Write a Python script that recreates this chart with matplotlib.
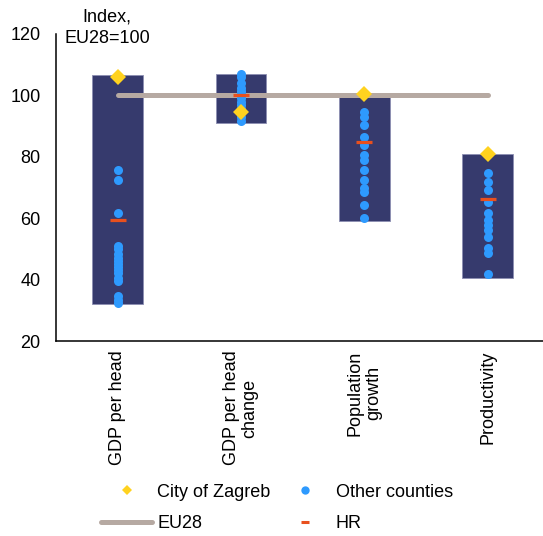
import matplotlib.pyplot as plt
from matplotlib.lines import Line2D

plt.rcParams['font.family'] = ['Liberation Sans', 'DejaVu Sans']

# data
categories = ['GDP per head', 'GDP per head\nchange', 'Population\ngrowth', 'Productivity']
bar_low = [32, 91, 59, 40.5]
bar_high = [106.5, 107, 100, 81]
zagreb = [106, 94.5, 100.5, 81]
hr = [59.5, 100, 84.8, 66.3]
eu28 = [100, 100, 100, 100]
others_gdp = [75.7, 72.4, 61.8, 51, 50, 48.5, 47, 46, 45, 44, 43, 42, 40.5, 39.5, 34.5, 33.5, 32.5]
others_gdp_change = [107, 106, 104, 102.5, 101.5, 100.5, 99, 98, 97, 95.5, 93, 91.5]
others_population = [94.6, 93, 90.4, 86.5, 83.8, 80.6, 79, 75.7, 72.4, 69.8, 68.5, 64.3, 60]
others_productivity = [74.7, 71.8, 69.2, 65.3, 61.7, 59.4, 57.8, 56.2, 53.9, 50.3, 48.7, 41.8]
others = [others_gdp, others_gdp_change, others_population, others_productivity]

navy = '#363A6D'
blue = '#2E9AFE'
yellow = '#FFD21F'
orange = '#E8501E'
grey = '#B6A9A2'

fig = plt.figure(figsize=(5.43, 5.36), dpi=100)
ax = fig.add_axes([56 / 543, 1 - 341 / 536, 1 - 56 / 543, 307 / 536])

x = list(range(len(categories)))
heights = [h - l for h, l in zip(bar_high, bar_low)]
ax.bar(x, heights, bottom=bar_low, width=0.41, color=navy,
       edgecolor='#8C8EB2', linewidth=0.6, zorder=1)

# EU28 reference line
ax.plot(x, eu28, color=grey, lw=3.6, solid_capstyle='round', zorder=2)

# other counties
for i, vals in enumerate(others):
    ax.plot([i] * len(vals), vals, 'o', color=blue, ms=6.5, mew=0, zorder=3)

# Croatia average
ax.plot(x, hr, '_', color=orange, ms=11.5, mew=2.3, zorder=4)

# City of Zagreb
ax.plot(x, zagreb, 'D', color=yellow, ms=8, mew=0, zorder=5)

ax.set_xlim(-0.5, 3.45)
ax.set_ylim(20, 120)
ax.set_yticks([20, 40, 60, 80, 100, 120])
ax.set_xticks(x)
ax.set_xticklabels(categories, rotation=90, ha='center', va='top',
                   multialignment='center', fontsize=13, linespacing=1.1)
ax.tick_params(axis='y', length=0, pad=11, labelsize=13)
ax.tick_params(axis='x', length=0, pad=7)
ax.spines['top'].set_visible(False)
ax.spines['right'].set_visible(False)
ax.spines['left'].set_linewidth(1.1)
ax.spines['bottom'].set_linewidth(1.1)

fig.text(107 / 543, 1 - 9 / 536, 'Index,\nEU28=100', ha='center', va='top',
         multialignment='center', fontsize=13, linespacing=1.3)

handles = [
    Line2D([], [], marker='D', color=yellow, ls='none', ms=5, mew=0),
    Line2D([], [], color=grey, lw=3.6, solid_capstyle='round'),
    Line2D([], [], marker='o', color=blue, ls='none', ms=6, mew=0),
    Line2D([], [], marker='_', color=orange, ls='none', ms=6, mew=2.2),
]
labels = ['City of Zagreb', 'EU28', 'Other counties', 'HR']
fig.legend(handles, labels, loc='center', bbox_to_anchor=(277 / 543, 1 - 508 / 536),
           ncol=2, frameon=False, fontsize=13, handlelength=2.8,
           handletextpad=0.3, columnspacing=0.5, labelspacing=0.8)

fig.savefig('out.png', dpi=100)
